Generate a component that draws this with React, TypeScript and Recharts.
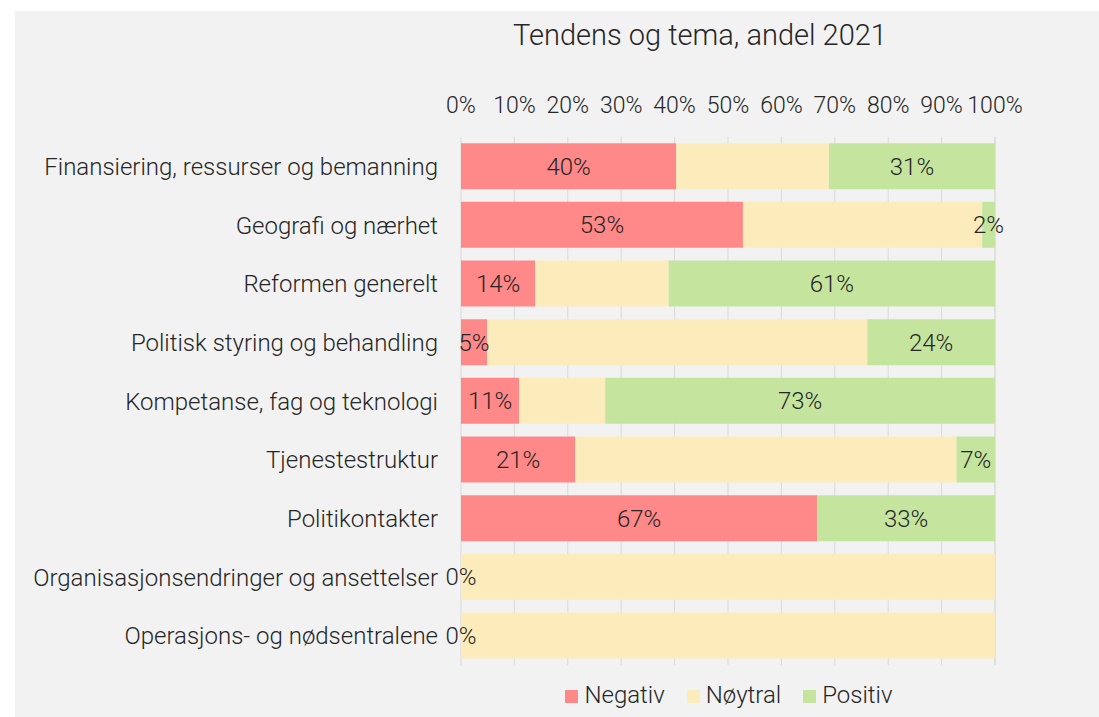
import { BarChart, Bar, XAxis, YAxis, CartesianGrid, LabelList, Legend } from "recharts"

const CATEGORIES = [
  "Finansiering, ressurser og bemanning",
  "Geografi og nærhet",
  "Reformen generelt",
  "Politisk styring og behandling",
  "Kompetanse, fag og teknologi",
  "Tjenestestruktur",
  "Politikontakter",
  "Organisasjonsendringer og ansettelser",
  "Operasjons- og nødsentralene",
]

const NEGATIV = [40.3, 52.8, 13.9, 4.9, 10.9, 21.4, 66.7, 0, 0]
const NOYTRAL = [28.6, 44.8, 25.0, 71.2, 16.1, 71.4, 0, 100, 100]
const POSITIV: (number | null)[] = [31.1, 2.4, 61.1, 23.9, 73.0, 7.2, 33.3, null, null]

const X_TICKS = [0, 10, 20, 30, 40, 50, 60, 70, 80, 90, 100]

const SERIES = [
  { key: "Negativ", color: "#FF8888", labels: true },
  { key: "Nøytral", color: "#FCECBC", labels: false },
  { key: "Positiv", color: "#C5E59F", labels: true },
] as const

const data = CATEGORIES.map((name, i) => ({
  name,
  Negativ: NEGATIV[i],
  Nøytral: NOYTRAL[i],
  Positiv: POSITIV[i],
}))

const FONT = "Roboto, 'Noto Sans', sans-serif"
const TEXT = "#262626"
const labelStyle = { fontSize: 24, fill: TEXT, fontWeight: 300, fontFamily: FONT }

const pct = (v: any) => (v === null || v === undefined ? "" : `${Math.round(v)}%`)

export default function App() {
  return (
    <div style={{ position: "absolute", left: 0, top: 0, width: 1099, height: 717, fontFamily: FONT }}>
      <div style={{ position: "absolute", left: 15, top: 11, width: 1084, height: 706, background: "#F2F2F2" }} />
      <div
        style={{
          position: "absolute",
          left: 400,
          width: 600,
          top: 15,
          textAlign: "center",
          fontSize: 29,
          fontWeight: 300,
          color: TEXT,
          lineHeight: "40px",
        }}
      >
        Tendens og tema, andel 2021
      </div>
      <div style={{ position: "absolute", left: 0, top: 0 }}>
        <BarChart
          width={1099}
          height={717}
          data={data}
          layout="vertical"
          barCategoryGap="10.5%"
          margin={{ top: 97, right: 104, bottom: 24, left: 0 }}
        >
          <CartesianGrid horizontal={false} stroke="#D9D9D9" />
          <XAxis
            type="number"
            orientation="top"
            domain={[0, 100]}
            ticks={X_TICKS}
            height={40}
            tickFormatter={(v: number) => `${v}%`}
            axisLine={false}
            tickLine={false}
            tickMargin={18}
            interval={0}
            tick={{ fontSize: 23, fill: TEXT, fontWeight: 300, fontFamily: FONT }}
          />
          <YAxis
            type="category"
            dataKey="name"
            width={461}
            axisLine={false}
            tickLine={false}
            tickMargin={17}
            interval={0}
            tick={labelStyle}
          />
          <Legend
            verticalAlign="bottom"
            iconType="square"
            iconSize={13}
            wrapperStyle={{ left: 473, width: 534, top: 681, fontSize: 24, fontWeight: 300 }}
            formatter={(value: string) => <span style={{ color: TEXT, marginLeft: 2, marginRight: 12 }}>{value}</span>}
          />
          {SERIES.map(({ key, color, labels }) => (
            <Bar
              key={key}
              dataKey={key}
              stackId="a"
              fill={color}
              minPointSize={key === "Negativ" ? 0.01 : 0}
              isAnimationActive={false}
            >
              {labels && <LabelList dataKey={key} position="center" formatter={pct} style={labelStyle} />}
            </Bar>
          ))}
        </BarChart>
      </div>
    </div>
  )
}
